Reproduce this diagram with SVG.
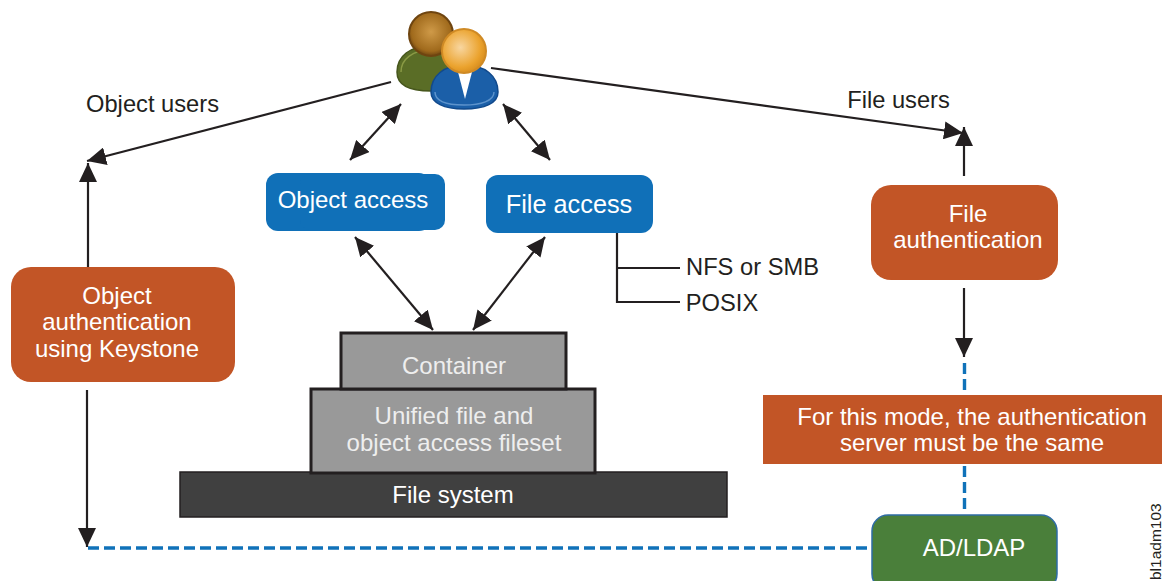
<svg xmlns="http://www.w3.org/2000/svg" width="1162" height="581" viewBox="0 0 1162 581">
<style>
text{font-family:"Liberation Sans",Arial,sans-serif;font-size:24px;text-anchor:middle}
.w{fill:#fff}.k{fill:#231f20}.l{fill:#eee}
.c{fill:none;stroke:#231f20;stroke-width:2.2}
.d{fill:none;stroke:#1072b9;stroke-width:3.4;stroke-dasharray:11 5}
.o{fill:#c25526}.b{fill:#1070b8}
.g{fill:#999;stroke:#231f20;stroke-width:3}
</style>
<defs>
<marker id="a" markerUnits="userSpaceOnUse" markerWidth="22" markerHeight="18" refX="19" refY="9" orient="auto-start-reverse"><path d="M0 0L19 9L0 18z" fill="#231f20"/></marker>
<radialGradient id="h1" cx=".5" cy=".45" r=".55"><stop offset="0" stop-color="#cf9a48"/><stop offset=".8" stop-color="#a06a1c"/><stop offset="1" stop-color="#6f4510"/></radialGradient>
<radialGradient id="h2" cx=".42" cy=".42" r=".6"><stop offset="0" stop-color="#f8d6a0"/><stop offset=".75" stop-color="#eba32e"/><stop offset="1" stop-color="#d98e1e"/></radialGradient>
</defs>
<rect width="1162" height="581" fill="#fff"/>
<g id="connectors">
<path class="c" marker-end="url(#a)" d="M391 82L87 161"/>
<path class="c" marker-end="url(#a)" d="M491 68L963 133"/>
<path class="c" marker-start="url(#a)" marker-end="url(#a)" d="M401 104L350 160"/>
<path class="c" marker-start="url(#a)" marker-end="url(#a)" d="M503 104L550 160"/>
<path class="c" marker-start="url(#a)" marker-end="url(#a)" d="M355 237L433 330"/>
<path class="c" marker-start="url(#a)" marker-end="url(#a)" d="M545 237L473 330"/>
<path class="c" d="M617 231V302H680M617 268H680"/>
<path class="c" marker-end="url(#a)" d="M88 267V163"/>
<path class="c" marker-end="url(#a)" d="M87 390V547"/>
<path class="c" marker-end="url(#a)" d="M964 176V127"/>
<path class="c" marker-end="url(#a)" d="M964 288V357"/>
<path class="d" d="M88 548H867"/>
<path class="d" d="M964.500 363V394M964.500 466V514"/>
</g>
<g id="users">
<path d="M397 72C397 56 410 46 431 46C452 46 464 56 464 72C464 85 452 91 431 91C410 91 397 85 397 72Z" fill="#5a6d26" stroke="#46561c" stroke-width="1.500"/>
<path d="M401 72C401 59 413 50 431 50" fill="none" stroke="#8a9a45" stroke-width="1.500"/>
<circle cx="431" cy="34" r="22" fill="url(#h1)" stroke="#6f4510" stroke-width="2"/>
<path d="M431 92C431 76 444 65 464 65C485 65 498 76 498 92C498 103 485 109 464 109C444 109 431 103 431 92Z" fill="#1b5fa8" stroke="#124a8c" stroke-width="1.500"/>
<path d="M435 92C435 101 447 105 464 105C481 105 494 101 494 92" fill="none" stroke="#5d93cc" stroke-width="1.500"/>
<path d="M458 72L465 99L472 72Z" fill="#fff"/>
<circle cx="464" cy="51" r="22" fill="url(#h2)" stroke="#cf8a25" stroke-width="2"/>
</g>
<g id="object-users"><text class="k" x="152.500" y="112" style="font-size:23.700px">Object users</text></g>
<g id="file-users"><text class="k" x="898.500" y="108" style="font-size:23.700px">File users</text></g>
<g id="object-access"><rect class="b" x="266" y="173" width="165" height="58" rx="12"/><rect class="b" x="300" y="174" width="145" height="56" rx="10"/><text class="w" x="353" y="208">Object access</text></g>
<g id="file-access"><rect class="b" x="486" y="175" width="167" height="58" rx="12"/><text class="w" x="569" y="213" style="font-size:25.300px">File access</text></g>
<g id="nfs"><text class="k" x="752.500" y="275" style="font-size:23.700px">NFS or SMB</text></g>
<g id="posix"><text class="k" x="722" y="311" style="font-size:23.700px">POSIX</text></g>
<g id="object-auth"><rect class="o" x="11" y="267" width="224" height="115" rx="20"/><text class="w" x="117" y="304">Object</text><text class="w" x="117" y="330">authentication</text><text class="w" x="117" y="357">using Keystone</text></g>
<g id="file-auth"><rect class="o" x="871" y="185" width="187" height="95" rx="20"/><text class="w" x="968" y="222">File</text><text class="w" x="968" y="248">authentication</text></g>
<g id="mode-note"><rect class="o" x="763" y="395" width="399" height="69"/><text class="w" x="972" y="425">For this mode, the authentication</text><text class="w" x="972" y="451">server must be the same</text></g>
<g id="ad-ldap"><rect x="872" y="515" width="185" height="75" rx="16" fill="#4a7f3a" stroke="#2e6ca4" stroke-width="1.500"/><text class="w" x="974" y="556">AD/LDAP</text></g>
<g id="file-system"><rect x="180" y="472" width="547" height="45" fill="#404040" stroke="#231f20" stroke-width="1.500"/><text class="w" x="453" y="503">File system</text></g>
<g id="fileset"><rect class="g" x="311" y="389" width="284" height="84"/><text class="l" x="454" y="424">Unified file and</text><text class="l" x="454" y="451">object access fileset</text></g>
<g id="container"><rect class="g" x="341" y="333" width="225" height="56"/><text class="l" x="454" y="374">Container</text></g>
<text class="k" transform="translate(1161 580) rotate(-90)" style="font-size:15.500px;text-anchor:start">bl1adm103</text>
</svg>
